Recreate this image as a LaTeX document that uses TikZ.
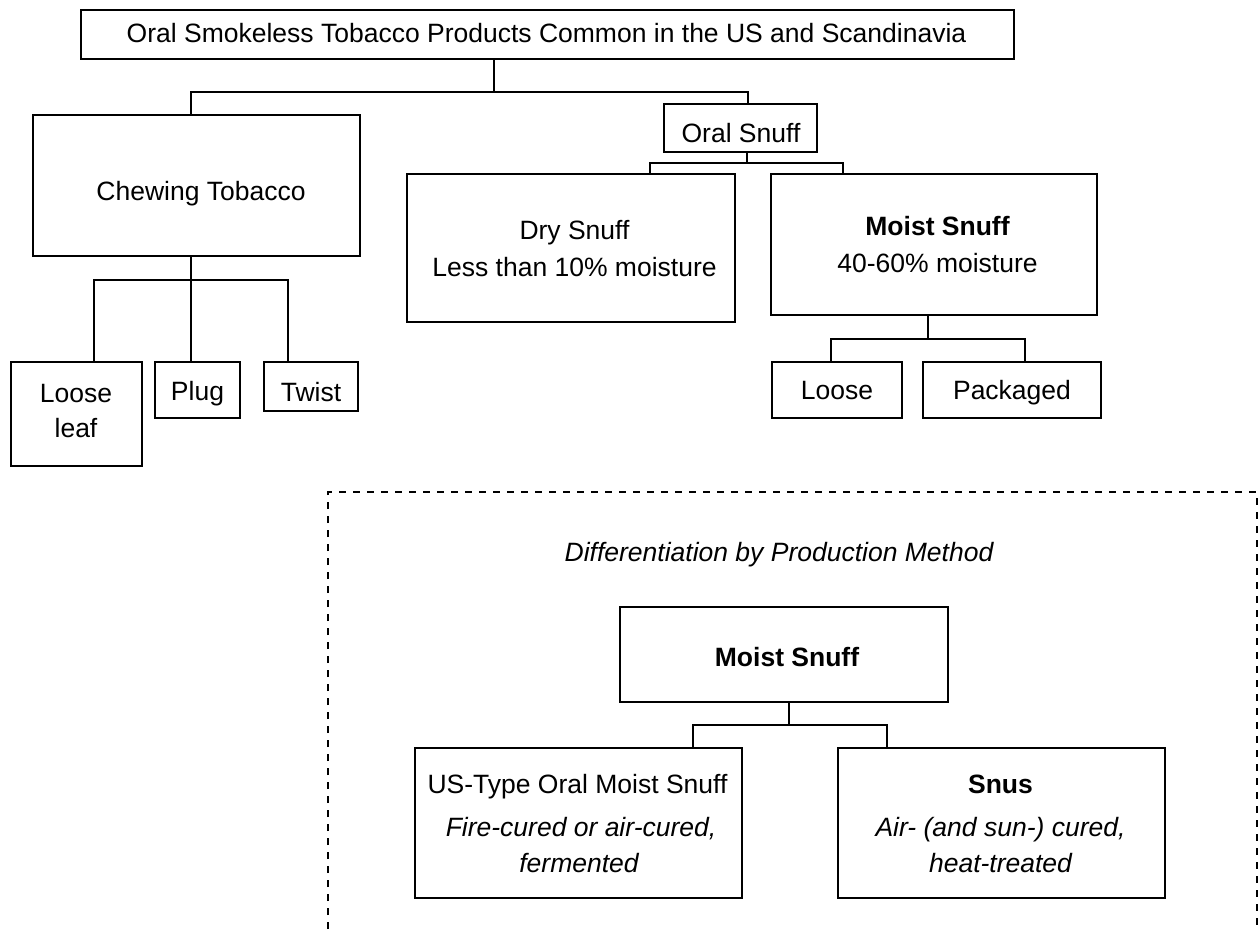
\documentclass[tikz,border=0pt]{standalone}
\usepackage{fontspec}
\setmainfont{Liberation Sans}
\begin{document}
\begin{tikzpicture}[x=1pt,y=-1pt,
  box/.style={draw, line width=1.6pt, rectangle, inner sep=0pt, outer sep=0pt},
  conn/.style={line width=1.6pt},
  txt/.style={inner sep=0pt, anchor=base, font=\fontsize{26.5}{37}\selectfont},
  dashbox/.style={line width=1.5pt, dash pattern=on 7pt off 7pt}]
\useasboundingbox (0,0) rectangle (1260,929);
\fill[white] (0,0) rectangle (1260,929);

% ---- boxes ----
\node[box, minimum width=933, minimum height=49] (top) at (547.5,34.5) {};
\node[box, minimum width=327, minimum height=141] (chew) at (196.5,185.5) {};
\node[box, minimum width=153, minimum height=48] (oral) at (740.5,128) {};
\node[box, minimum width=328, minimum height=148] (dry) at (571,248) {};
\node[box, minimum width=326, minimum height=141] (moist) at (934,244.5) {};
\node[box, minimum width=131, minimum height=104] (leaf) at (76.5,414) {};
\node[box, minimum width=85, minimum height=56] (plug) at (197.5,390) {};
\node[box, minimum width=94, minimum height=49] (twist) at (311,386.5) {};
\node[box, minimum width=130, minimum height=56] (loose) at (837,390) {};
\node[box, minimum width=178, minimum height=56] (pack) at (1012,390) {};
\node[box, minimum width=328, minimum height=95] (moist2) at (784,654.5) {};
\node[box, minimum width=327, minimum height=150] (us) at (578.5,823) {};
\node[box, minimum width=327, minimum height=150] (snus) at (1001.5,823) {};

% ---- texts ----
\node[txt] (topT) at (546.5,42) {Oral Smokeless Tobacco Products Common in the US and Scandinavia};
\node[txt] (chewT) at (201,200) {Chewing Tobacco};
\node[txt] (oralT) at (741,142) {Oral Snuff};
\node[txt] (dryT1) at (574.5,239) {Dry Snuff};
\node[txt] (dryT2) at (574.5,276) {Less than 10\% moisture};
\node[txt] (moistT1) at (937.5,235) {\bfseries Moist Snuff};
\node[txt] (moistT2) at (937.5,272) {40-60\% moisture};
\node[txt] (leafT1) at (76,402) {Loose};
\node[txt] (leafT2) at (76,437) {leaf};
\node[txt] (plugT) at (197.5,400) {Plug};
\node[txt] (twistT) at (311,401) {Twist};
\node[txt] (looseT) at (837,399) {Loose};
\node[txt] (packT) at (1012,399) {Packaged};
\node[txt] (head) at (779,561) {\itshape Differentiation by Production Method};
\node[txt] (moist2T) at (787,666) {\bfseries Moist Snuff};
\node[txt] (usT1) at (577.5,793) {US-Type Oral Moist Snuff};
\node[txt] (usT2) at (581,836) {\itshape Fire-cured or air-cured,};
\node[txt] (usT3) at (579,872) {\itshape fermented};
\node[txt] (snusT1) at (1000.5,793) {\bfseries Snus};
\node[txt] (snusT2) at (1000.5,836) {\itshape Air- (and sun-) cured,};
\node[txt] (snusT3) at (1000.5,872) {\itshape heat-treated};

% ---- connectors ----
\coordinate (b1) at (494,92);
\coordinate (b1L) at (191,92);
\coordinate (b1R) at (748,92);
\draw[conn] (top.south -| b1) -- (b1);
\draw[conn] (chew.north -| b1L) -- (b1L) -- (b1R) -- (oral.north -| b1R);

\coordinate (b2) at (191,280);
\coordinate (b2L) at (94,280);
\coordinate (b2R) at (288,280);
\draw[conn] (chew.south -| b2) -- (plug.north -| b2);
\draw[conn] (leaf.north -| b2L) -- (b2L) -- (b2R) -- (twist.north -| b2R);

\coordinate (b3) at (747,163);
\coordinate (b3L) at (650,163);
\coordinate (b3R) at (843,163);
\draw[conn] (oral.south -| b3) -- (b3);
\draw[conn] (dry.north -| b3L) -- (b3L) -- (b3R) -- (moist.north -| b3R);

\coordinate (b4) at (928,339);
\coordinate (b4L) at (831,339);
\coordinate (b4R) at (1025,339);
\draw[conn] (moist.south -| b4) -- (b4);
\draw[conn] (loose.north -| b4L) -- (b4L) -- (b4R) -- (pack.north -| b4R);

\coordinate (b5) at (789,725);
\coordinate (b5L) at (693,725);
\coordinate (b5R) at (887,725);
\draw[conn] (moist2.south -| b5) -- (b5);
\draw[conn] (us.north -| b5L) -- (b5L) -- (b5R) -- (snus.north -| b5R);

% ---- dashed frame (open at the bottom edge) ----
\coordinate (dBL) at (328,929);
\coordinate (dTL) at (328,492);
\coordinate (dTR) at (1257,492);
\coordinate (dBR) at (1257,929);
\draw[dashbox] (dBL) -- (dTL) -- (dTR) -- (dBR);
\end{tikzpicture}
\end{document}
